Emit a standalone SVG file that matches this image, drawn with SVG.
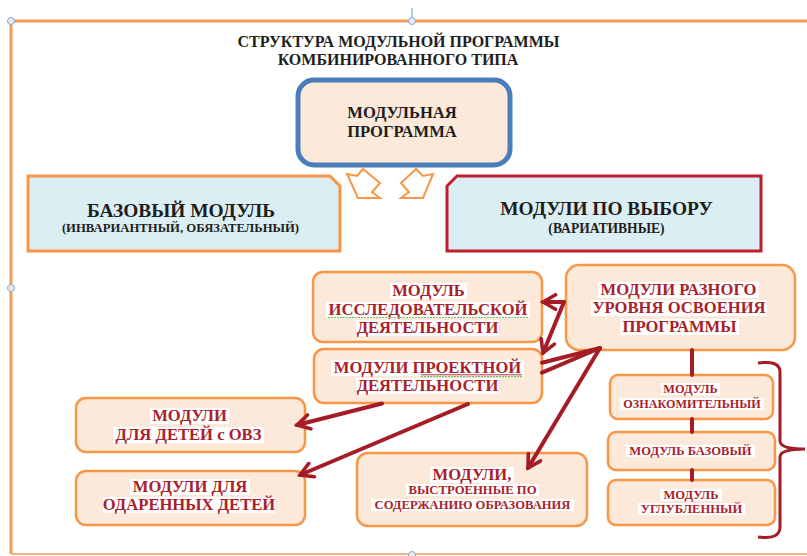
<svg xmlns="http://www.w3.org/2000/svg" width="807" height="556" viewBox="0 0 807 556">
<defs>
<style>
.t{fill:#1e1e1e}
.r{fill:#a91f2b}
.box{fill:#fde9d9;stroke:#f79646;stroke-width:2.5}
.hl{fill:#ffffff}
.con{fill:none;stroke:#a51c27;stroke-width:4;stroke-linecap:round}
.zig{fill:#ffffff;stroke:#f79646;stroke-width:2;stroke-linejoin:miter}
.hd{fill:#e3ecf6;stroke:#8da9c9;stroke-width:1}
.sp{stroke:#6fbf6f;stroke-width:1.2;stroke-dasharray:2,1}
</style>
<marker id="ah" markerUnits="userSpaceOnUse" viewBox="0 0 20 20" refX="17" refY="10" markerWidth="18" markerHeight="18" orient="auto">
<path d="M3,2 L17,10 L3,18" fill="none" stroke="#a51c27" stroke-width="4" stroke-linecap="round" stroke-linejoin="miter"/>
</marker>
</defs>
<rect width="807" height="556" fill="#ffffff"/>
<g id="frame">
<path d="M11,554 L11,21 L812,21" fill="none" stroke="#ef9b5a" stroke-width="3"/>
<path d="M11,554 L812,554" fill="none" stroke="#f0b080" stroke-width="2"/>
<line x1="412" y1="8" x2="412" y2="18" stroke="#8da9c9" stroke-width="1.2"/>
<circle class="hd" cx="11" cy="21" r="3.5"/>
<circle class="hd" cx="412" cy="21" r="3.5"/>
<circle class="hd" cx="11" cy="288" r="3.5"/>
<circle class="hd" cx="412" cy="555" r="3.5"/>
</g>
<g id="title">
<text class="t" x="398.5" y="47" font-size="16" font-family="Liberation Serif" font-weight="bold" text-anchor="middle">СТРУКТУРА МОДУЛЬНОЙ ПРОГРАММЫ</text>
<text class="t" x="398" y="65" font-size="16" font-family="Liberation Serif" font-weight="bold" text-anchor="middle">КОМБИНИРОВАННОГО ТИПА</text>
</g>
<g id="modular-program">
<rect x="298" y="80" width="212" height="85" rx="16" fill="#fce9da" stroke="#4a7ebb" stroke-width="5"/>
<text class="t" x="402" y="118" font-size="16.6" font-family="Liberation Serif" font-weight="bold" text-anchor="middle">МОДУЛЬНАЯ</text>
<text class="t" x="402" y="137" font-size="16.6" font-family="Liberation Serif" font-weight="bold" text-anchor="middle">ПРОГРАММА</text>
</g>
<g id="split-arrows">
<polygon class="zig" points="347,174 357,176 363,169 380,183 372,192 380,198 358,198"/>
<polygon class="zig" points="433,174 423,176 416,169 401,183 409,192 401,198 423,198"/>
</g>
<g id="base-module">
<polygon points="28,176 330,176 340,186 340,251 28,251" fill="#dbeef4" stroke="#f79646" stroke-width="3"/>
<text class="t" x="181" y="217" font-size="19.4" font-family="Liberation Serif" font-weight="bold" text-anchor="middle">БАЗОВЫЙ МОДУЛЬ</text>
<text class="t" x="180.5" y="232" font-size="12.7" font-family="Liberation Serif" font-weight="bold" text-anchor="middle">(ИНВАРИАНТНЫЙ, ОБЯЗАТЕЛЬНЫЙ)</text>
</g>
<g id="elective-modules">
<polygon points="457,176 761,176 761,251 447,251 447,186" fill="#dbeef4" stroke="#be1e2d" stroke-width="3"/>
<text class="t" x="606.5" y="215" font-size="19.4" font-family="Liberation Serif" font-weight="bold" text-anchor="middle">МОДУЛИ ПО ВЫБОРУ</text>
<text class="t" x="606.5" y="233" font-size="13.6" font-family="Liberation Serif" font-weight="bold" text-anchor="middle">(ВАРИАТИВНЫЕ)</text>
</g>
<g id="research-module">
<rect class="box" x="313" y="272" width="229" height="70" rx="10"/>
<rect class="hl" x="390" y="283" width="77" height="16"/>
<rect class="hl" x="326" y="302" width="204" height="16"/>
<rect class="hl" x="356" y="320" width="143" height="16"/>
<text class="r" x="428.5" y="296" font-size="16.6" font-family="Liberation Serif" font-weight="bold" text-anchor="middle">МОДУЛЬ</text>
<text class="r" x="428" y="315" font-size="16.6" font-family="Liberation Serif" font-weight="bold" text-anchor="middle">ИССЛЕДОВАТЕЛЬСКОЙ</text>
<path class="sp" d="M328,317.5 L528,317.5"/>
<text class="r" x="427.5" y="333" font-size="16.6" font-family="Liberation Serif" font-weight="bold" text-anchor="middle">ДЕЯТЕЛЬНОСТИ</text>
</g>
<g id="project-modules">
<rect class="box" x="314" y="349" width="228" height="54" rx="10"/>
<rect class="hl" x="331" y="360" width="193" height="16"/>
<rect class="hl" x="356" y="378" width="143" height="16"/>
<text class="r" x="427.5" y="373" font-size="16.6" font-family="Liberation Serif" font-weight="bold" text-anchor="middle">МОДУЛИ ПРОЕКТНОЙ</text>
<path d="M421,374.8 L522,374.8" stroke="#a91f2b" stroke-width="0.9"/>
<path class="sp" d="M421,376.6 L522,376.6"/>
<text class="r" x="427.5" y="391" font-size="16.6" font-family="Liberation Serif" font-weight="bold" text-anchor="middle">ДЕЯТЕЛЬНОСТИ</text>
</g>
<g id="level-modules">
<rect class="box" x="566" y="265" width="229" height="85" rx="13"/>
<rect class="hl" x="598" y="282" width="161" height="16"/>
<rect class="hl" x="591" y="300" width="176" height="16"/>
<rect class="hl" x="620" y="319" width="119" height="16"/>
<text class="r" x="678.5" y="295" font-size="16.6" font-family="Liberation Serif" font-weight="bold" text-anchor="middle">МОДУЛИ РАЗНОГО</text>
<text class="r" x="679" y="313" font-size="16.6" font-family="Liberation Serif" font-weight="bold" text-anchor="middle">УРОВНЯ ОСВОЕНИЯ</text>
<text class="r" x="679.5" y="332" font-size="16.6" font-family="Liberation Serif" font-weight="bold" text-anchor="middle">ПРОГРАММЫ</text>
</g>
<g id="intro-module">
<rect class="box" x="610" y="375" width="163" height="44" rx="8"/>
<rect class="hl" x="661" y="383" width="59" height="12"/>
<rect class="hl" x="620" y="398" width="144" height="12"/>
<text class="r" x="690.5" y="393" font-size="12.4" font-family="Liberation Serif" font-weight="bold" text-anchor="middle">МОДУЛЬ</text>
<text class="r" x="692" y="408" font-size="12.2" font-family="Liberation Serif" font-weight="bold" text-anchor="middle">ОЗНАКОМИТЕЛЬНЫЙ</text>
</g>
<g id="basic-module">
<rect class="box" x="608" y="432" width="167" height="38" rx="8"/>
<rect class="hl" x="626" y="445" width="129" height="12"/>
<text class="r" x="690.5" y="455" font-size="12.6" font-family="Liberation Serif" font-weight="bold" text-anchor="middle">МОДУЛЬ БАЗОВЫЙ</text>
</g>
<g id="advanced-module">
<rect class="box" x="608" y="480" width="167" height="45" rx="8"/>
<rect class="hl" x="660" y="489" width="62" height="12"/>
<rect class="hl" x="638" y="503" width="107" height="12"/>
<text class="r" x="691" y="499" font-size="12.6" font-family="Liberation Serif" font-weight="bold" text-anchor="middle">МОДУЛЬ</text>
<text class="r" x="691.5" y="513" font-size="12.6" font-family="Liberation Serif" font-weight="bold" text-anchor="middle">УГЛУБЛЕННЫЙ</text>
</g>
<g id="ovz-modules">
<rect class="box" x="76" y="398" width="229" height="54" rx="10"/>
<rect class="hl" x="150" y="408" width="79" height="16"/>
<rect class="hl" x="113" y="427" width="151" height="16"/>
<text class="r" x="189.5" y="421" font-size="16.6" font-family="Liberation Serif" font-weight="bold" text-anchor="middle">МОДУЛИ</text>
<text class="r" x="188.5" y="440" font-size="16.6" font-family="Liberation Serif" font-weight="bold" text-anchor="middle">ДЛЯ ДЕТЕЙ с ОВЗ</text>
</g>
<g id="gifted-modules">
<rect class="box" x="76" y="471" width="229" height="54" rx="10"/>
<rect class="hl" x="130" y="479" width="120" height="16"/>
<rect class="hl" x="103" y="497" width="172" height="16"/>
<text class="r" x="190" y="492" font-size="16.6" font-family="Liberation Serif" font-weight="bold" text-anchor="middle">МОДУЛИ ДЛЯ</text>
<text class="r" x="189" y="510" font-size="16.6" font-family="Liberation Serif" font-weight="bold" text-anchor="middle">ОДАРЕННЫХ ДЕТЕЙ</text>
</g>
<g id="content-modules">
<rect class="box" x="357" y="453" width="230" height="73" rx="11"/>
<rect class="hl" x="430" y="467" width="84" height="16"/>
<rect class="hl" x="406" y="484" width="133" height="12"/>
<rect class="hl" x="371" y="499" width="203" height="12"/>
<text class="r" x="472" y="480" font-size="16.6" font-family="Liberation Serif" font-weight="bold" text-anchor="middle">МОДУЛИ,</text>
<text class="r" x="472.5" y="494" font-size="12.7" font-family="Liberation Serif" font-weight="bold" text-anchor="middle">ВЫСТРОЕННЫЕ ПО</text>
<text class="r" x="472.5" y="509" font-size="12.6" font-family="Liberation Serif" font-weight="bold" text-anchor="middle">СОДЕРЖАНИЮ ОБРАЗОВАНИЯ</text>
</g>
<g id="connectors">
<path class="con" d="M692,350 L692,375 M692,419 L692,432 M692,470 L692,480"/>
<path class="con" d="M564,302 L543,302" marker-end="url(#ah)"/>
<path class="con" d="M564,302 L543,353" marker-end="url(#ah)"/>
<path class="con" d="M600,348 L542,362.7 M382,403.5 L297,425" marker-end="url(#ah)"/>
<path class="con" d="M600,348 L542,372.6 M468,404 L300,475" marker-end="url(#ah)"/>
<path class="con" d="M600,348 L528,468" marker-end="url(#ah)"/>
<path d="M758,363 Q780,360 780,372 L780,441 Q780,449 805,449 Q780,449 780,457 L780,527 Q780,540 758,537" fill="none" stroke="#a51c27" stroke-width="3"/>
</g>
</svg>
